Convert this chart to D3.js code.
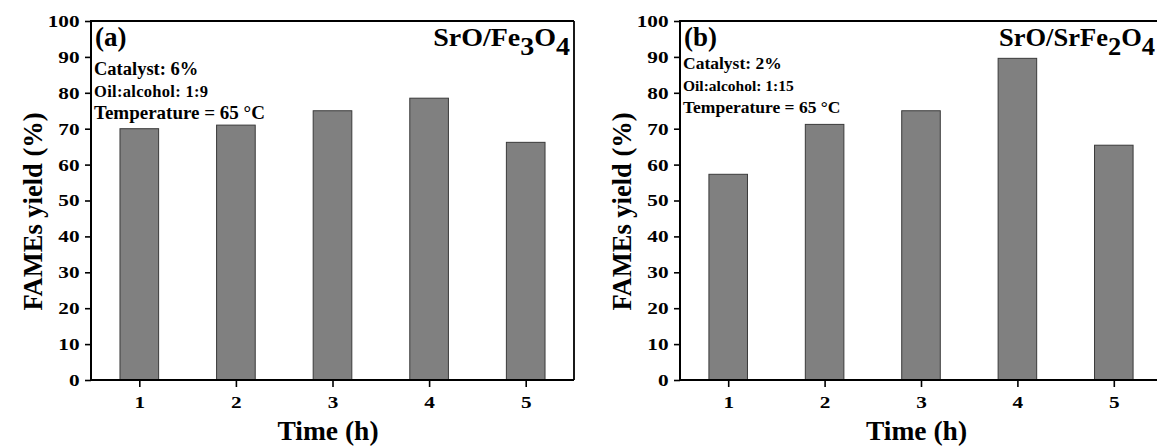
<!DOCTYPE html>
<html>
<head>
<meta charset="utf-8">
<script src="https://cdn.jsdelivr.net/npm/d3@7"></script>
<style>
  html, body { margin: 0; padding: 0; background: #fff; }
  svg { display: block; }
  text { font-family: "Liberation Serif", "Times New Roman", serif; font-weight: bold; fill: #000; }
</style>
</head>
<body>
<script>
// ---------------- data ----------------
const times = [1, 2, 3, 4, 5];
const yieldA = [70.0, 71.0, 75.0, 78.5, 66.2];
const yieldB = [57.3, 71.2, 75.0, 89.6, 65.4];
const yTicks = [0, 10, 20, 30, 40, 50, 60, 70, 80, 90, 100];
const xTickLabels = ["1", "2", "3", "4", "5"];
const panelLabels = ["(a)", "(b)"];
const titleParts = [
  [["SrO/Fe", 0], ["3", 1], ["O", 0], ["4", 1]],
  [["SrO/SrFe", 0], ["2", 1], ["O", 0], ["4", 1]]
];
const notesA = ["Catalyst: 6%", "Oil:alcohol: 1:9", "Temperature = 65 °C"];
const notesB = ["Catalyst: 2%", "Oil:alcohol: 1:15", "Temperature = 65 °C"];
const xTitle = "Time (h)";
const yTitle = "FAMEs yield (%)";

// ---------------- layout ----------------
const W = 1157, H = 446;
const svg = d3.select("body").append("svg").attr("width", W).attr("height", H);
const FONT = "'Liberation Serif', 'Times New Roman', serif";

function drawPanel(opt) {
  const {left, top, width, height, values, label, title, titleSx, titleRight,
         notes, noteSizes, noteY, noteSpacing} = opt;
  const g = svg.append("g").attr("transform", `translate(${left},${top})`);
  const x = d3.scaleLinear().domain([0.5, 5.5]).range([0, width]);
  const y = d3.scaleLinear().domain([0, 100]).range([height, 0]);
  const step = x(2) - x(1);
  const bw = step * 0.4;

  // bars
  g.selectAll("rect.bar").data(values).enter().append("rect")
    .attr("class", "bar")
    .attr("x", (d, i) => x(times[i]) - bw / 2)
    .attr("y", d => y(d))
    .attr("width", bw)
    .attr("height", d => y(0) - y(d))
    .attr("fill", "#808080")
    .attr("stroke", "#3a3a3a")
    .attr("stroke-width", 1);

  // frame top & right
  g.append("line").attr("x1", 0).attr("x2", width).attr("y1", 0).attr("y2", 0)
    .attr("stroke", "#000").attr("stroke-width", 1.8);
  g.append("line").attr("x1", width).attr("x2", width).attr("y1", 0).attr("y2", height)
    .attr("stroke", "#000").attr("stroke-width", 1.8);

  const tickSx = 1.25;
  // y axis
  const ya = g.append("g").call(d3.axisLeft(y).tickValues(yTicks).tickSize(6).tickPadding(5).tickFormat(d3.format("d")));
  ya.select(".domain").attr("stroke-width", 2).attr("d", `M0,${height + 1}V-1`);
  ya.selectAll(".tick line").attr("stroke-width", 1.6);
  ya.selectAll("text")
    .style("font-size", "17px").style("font-family", FONT).style("font-weight", "bold")
    .attr("fill", "#000")
    .attr("x", -11.5 / tickSx)
    .attr("transform", `scale(${tickSx},1)`);

  // x axis
  const xa = g.append("g").attr("transform", `translate(0,${height})`)
    .call(d3.axisBottom(x).tickValues(times).tickSize(7).tickPadding(9).tickFormat((d, i) => xTickLabels[i]));
  xa.select(".domain").attr("stroke-width", 2).attr("d", `M-1,0H${width}`);
  xa.selectAll(".tick line").attr("stroke-width", 1.6);
  xa.selectAll("text")
    .style("font-size", "17px").style("font-family", FONT).style("font-weight", "bold")
    .attr("fill", "#000")
    .attr("transform", `scale(${tickSx},1)`);

  // axis titles
  g.append("text").attr("x", width / 2 - 4.5).attr("y", height + 60)
    .attr("text-anchor", "middle").style("font-size", "27.5px").text(xTitle);
  g.append("text").attr("transform", `translate(${-49},${height / 2 + 11}) rotate(-90)`)
    .attr("text-anchor", "middle").style("font-size", "26.5px").text(yTitle);

  // panel label
  g.append("text").attr("x", 4).attr("y", 25).style("font-size", "27px").text(label);

  // title with subscripts
  const t = g.append("text")
    .attr("x", (width - titleRight) / titleSx).attr("y", 25)
    .attr("transform", `scale(${titleSx},1)`)
    .attr("text-anchor", "end").style("font-size", "25px");
  title.forEach(([s, sub], i) => {
    const prevSub = i > 0 ? title[i - 1][1] : 0;
    t.append("tspan").text(s)
      .attr("dy", sub && !prevSub ? 9 : (!sub && prevSub ? -9 : 0))
      .style("font-size", "25px");
  });

  // notes
  notes.forEach((s, i) => {
    g.append("text").attr("x", 3).attr("y", noteY[i])
      .style("font-size", noteSizes[i] + "px")
      .style("letter-spacing", noteSpacing[i] + "px")
      .text(s);
  });
}

drawPanel({
  left: 91, top: 21, width: 483, height: 359,
  values: yieldA, label: panelLabels[0], title: titleParts[0], titleSx: 1.12, titleRight: 4,
  notes: notesA, noteSizes: [18.5, 16.5, 19], noteY: [54, 76, 98], noteSpacing: [0, 0.3, 0]
});
drawPanel({
  left: 680, top: 21, width: 482, height: 359,
  values: yieldB, label: panelLabels[1], title: titleParts[1], titleSx: 1.06, titleRight: 7,
  notes: notesB, noteSizes: [17.5, 15.5, 17.5], noteY: [48, 70, 92], noteSpacing: [0, 0, 0]
});
</script>
</body>
</html>
